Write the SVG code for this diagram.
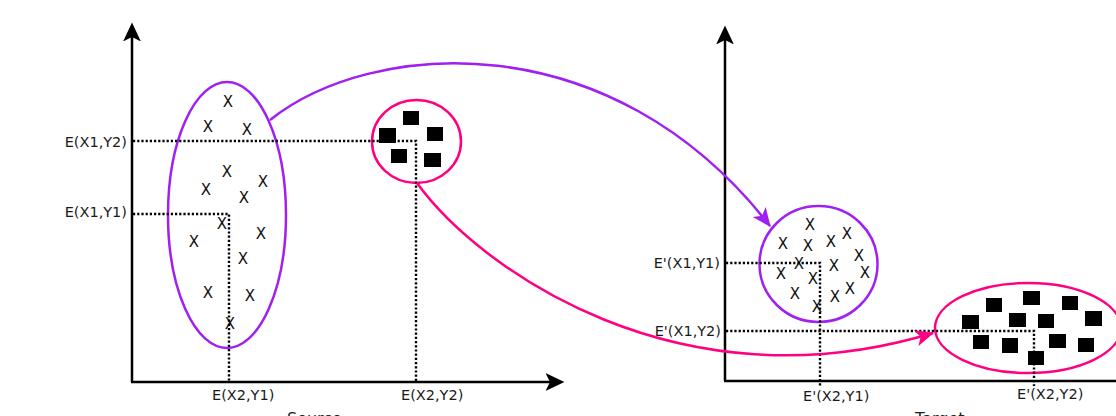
<svg xmlns="http://www.w3.org/2000/svg" width="1116" height="416" viewBox="0 0 1116 416">
  <defs>
    <marker id="axisArrow" markerUnits="userSpaceOnUse" markerWidth="20" markerHeight="20" refX="4" refY="0" viewBox="0 -9 18 18" orient="auto">
      <path d="M0,-8 L17,0 L0,8 L4,0 Z" fill="#000"/>
    </marker>
    <marker id="purpleArrow" markerUnits="userSpaceOnUse" markerWidth="20" markerHeight="20" refX="15" refY="0" viewBox="0 -8 17 16" orient="auto">
      <path d="M0,-7 L16,0 L0,7 L4,0 Z" fill="#a020f0"/>
    </marker>
    <marker id="pinkArrow" markerUnits="userSpaceOnUse" markerWidth="20" markerHeight="20" refX="15" refY="0" viewBox="0 -8 17 16" orient="auto">
      <path d="M0,-7 L16,0 L0,7 L4,0 Z" fill="#ff0080"/>
    </marker>
  </defs>
  <style>
    .axis { stroke: #000; stroke-width: 2.5; fill: none; }
    .dot { stroke: #000; stroke-width: 2.4; stroke-dasharray: 2.2 2; fill: none; }
    .purple { stroke: #a020f0; stroke-width: 2.5; fill: none; }
    .pink { stroke: #ff0080; stroke-width: 2.5; fill: none; }
    .lbl { font-family: "DejaVu Sans", sans-serif; font-size: 14.5px; fill: #1a1a1a; }
    .x { font-family: "DejaVu Sans", sans-serif; font-size: 15px; fill: #111; text-anchor: middle; }
    .title { font-family: "DejaVu Sans", sans-serif; font-size: 16px; fill: #222; }
    .sq { fill: #000; }
  </style>
  <rect width="1116" height="416" fill="#fff"/>

  <!-- Source axes -->
  <g id="source-axes">
    <line class="axis" x1="132" y1="382" x2="132" y2="37" marker-end="url(#axisArrow)"/>
    <line class="axis" x1="131" y1="382" x2="550" y2="382" marker-end="url(#axisArrow)"/>
    <text class="title" x="287" y="424">Source</text>
  </g>

  <!-- Target axes -->
  <g id="target-axes">
    <line class="axis" x1="725" y1="381" x2="725" y2="40" marker-end="url(#axisArrow)"/>
    <line class="axis" x1="724" y1="381" x2="1116" y2="381"/>
    <text class="title" x="915" y="424">Target</text>
  </g>

  <!-- Source X cluster -->
  <g id="source-x-cluster">
    <ellipse class="purple" cx="227" cy="215" rx="59" ry="133"/>
    <g>
      <text class="x" x="228" y="107">X</text>
      <text class="x" x="208" y="132">X</text>
      <text class="x" x="247" y="135">X</text>
      <text class="x" x="227" y="177">X</text>
      <text class="x" x="206" y="195">X</text>
      <text class="x" x="263" y="187">X</text>
      <text class="x" x="244" y="203">X</text>
      <text class="x" x="222" y="229">X</text>
      <text class="x" x="194" y="247">X</text>
      <text class="x" x="261" y="239">X</text>
      <text class="x" x="243" y="264">X</text>
      <text class="x" x="208" y="298">X</text>
      <text class="x" x="250" y="301">X</text>
      <text class="x" x="230" y="329">X</text>
    </g>
  </g>

  <!-- Source square cluster -->
  <g id="source-square-cluster">
    <ellipse class="pink" cx="416.5" cy="141.5" rx="44.5" ry="41.5"/>
    <rect class="sq" x="403" y="111" width="16" height="14"/>
    <rect class="sq" x="379" y="128" width="17" height="15"/>
    <rect class="sq" x="427" y="127" width="16" height="14"/>
    <rect class="sq" x="391" y="149" width="16" height="14"/>
    <rect class="sq" x="424" y="153" width="17" height="14"/>
  </g>

  <!-- Target X cluster -->
  <g id="target-x-cluster">
    <ellipse class="purple" cx="818.5" cy="264" rx="59" ry="58"/>
    <g>
      <text class="x" x="810" y="230">X</text>
      <text class="x" x="783" y="249">X</text>
      <text class="x" x="808" y="251">X</text>
      <text class="x" x="831" y="247">X</text>
      <text class="x" x="847" y="239">X</text>
      <text class="x" x="859" y="261">X</text>
      <text class="x" x="865" y="278">X</text>
      <text class="x" x="834" y="271">X</text>
      <text class="x" x="799" y="269">X</text>
      <text class="x" x="781" y="279">X</text>
      <text class="x" x="813" y="284">X</text>
      <text class="x" x="795" y="299">X</text>
      <text class="x" x="835" y="302">X</text>
      <text class="x" x="850" y="294">X</text>
      <text class="x" x="817" y="312">X</text>
    </g>
  </g>

  <!-- Target square cluster -->
  <g id="target-square-cluster">
    <ellipse class="pink" cx="1028" cy="328" rx="93" ry="45"/>
    <rect class="sq" x="986" y="298" width="16" height="14"/>
    <rect class="sq" x="1023" y="291" width="17" height="14"/>
    <rect class="sq" x="1062" y="296" width="16" height="14"/>
    <rect class="sq" x="962" y="315" width="17" height="14"/>
    <rect class="sq" x="1009" y="313" width="17" height="14"/>
    <rect class="sq" x="1038" y="314" width="16" height="14"/>
    <rect class="sq" x="1085" y="311" width="17" height="15"/>
    <rect class="sq" x="973" y="335" width="16" height="14"/>
    <rect class="sq" x="1002" y="338" width="16" height="15"/>
    <rect class="sq" x="1049" y="334" width="17" height="14"/>
    <rect class="sq" x="1078" y="338" width="16" height="14"/>
    <rect class="sq" x="1028" y="351" width="16" height="14"/>
  </g>

  <!-- Guide lines and labels -->
  <g id="source-guides">
    <polyline class="dot" points="133,141 416,141 416,382"/>
    <polyline class="dot" points="133,214 229,214 229,382"/>
    <text class="lbl" x="127" y="143" text-anchor="end" dominant-baseline="middle">E(X1,Y2)</text>
    <text class="lbl" x="127" y="213" text-anchor="end" dominant-baseline="middle">E(X1,Y1)</text>
    <text class="lbl" x="212" y="400">E(X2,Y1)</text>
    <text class="lbl" x="401" y="400">E(X2,Y2)</text>
  </g>
  <g id="target-guides">
    <polyline class="dot" points="726,263 820,263 820,387"/>
    <polyline class="dot" points="726,331 1034,331 1034,386"/>
    <text class="lbl" x="720" y="264" text-anchor="end" dominant-baseline="middle">E'(X1,Y1)</text>
    <text class="lbl" x="721" y="332" text-anchor="end" dominant-baseline="middle">E'(X1,Y2)</text>
    <text class="lbl" x="803" y="401">E'(X2,Y1)</text>
    <text class="lbl" x="1017" y="399">E'(X2,Y2)</text>
  </g>

  <!-- Connectors -->
  <g id="connectors">
    <path class="purple" d="M270,120 C370,40 610,20 770,226" marker-end="url(#purpleArrow)"/>
    <path class="pink" d="M417,183 C480,270 680,410 933,333" marker-end="url(#pinkArrow)"/>
  </g>
</svg>
